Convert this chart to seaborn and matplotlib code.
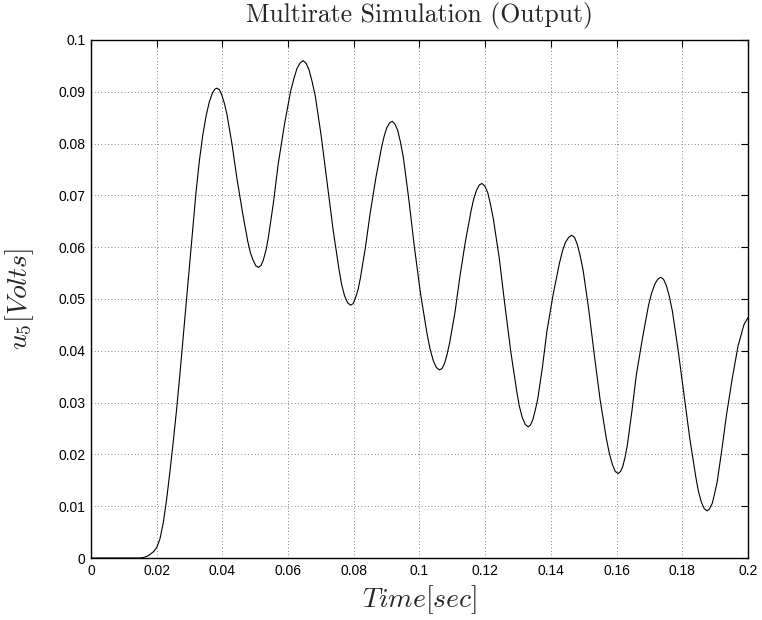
import numpy as np
import pandas as pd
import seaborn as sns
import matplotlib.pyplot as plt
from matplotlib.ticker import FuncFormatter

# values (denser around the peaks and troughs)
time_s = [0.0000, 0.0120, 0.0150, 0.0160, 0.0170, 0.0180, 0.0190, 0.0200, 0.0210, 0.0220,
          0.0230, 0.0240, 0.0250, 0.0260, 0.0270, 0.0280, 0.0290, 0.0300, 0.0310, 0.0320,
          0.0330, 0.0340, 0.0350, 0.0360, 0.0370, 0.0377, 0.0383,
          0.0391, 0.0398, 0.0406, 0.0414, 0.0429, 0.0444, 0.0461, 0.0477, 0.0485, 0.0494, 0.0502, 0.0510,
          0.0518, 0.0525, 0.0533, 0.0540, 0.0555, 0.0570, 0.0589, 0.0608, 0.0618, 0.0627, 0.0637, 0.0646,
          0.0655, 0.0664, 0.0673, 0.0683, 0.0701, 0.0719, 0.0737, 0.0755, 0.0763, 0.0772, 0.0781, 0.0790,
          0.0798, 0.0805, 0.0813, 0.0820, 0.0835, 0.0850, 0.0867, 0.0884, 0.0892, 0.0900, 0.0909, 0.0917,
          0.0925, 0.0934, 0.0942, 0.0951, 0.0967, 0.0984, 0.1003, 0.1023, 0.1032, 0.1042, 0.1051, 0.1061,
          0.1069, 0.1077, 0.1084, 0.1092, 0.1108, 0.1123, 0.1140, 0.1157, 0.1165, 0.1173, 0.1182, 0.1190,
          0.1199, 0.1208, 0.1216, 0.1225, 0.1243, 0.1260, 0.1278, 0.1296, 0.1304, 0.1313, 0.1322, 0.1331,
          0.1338, 0.1345, 0.1352, 0.1360, 0.1374, 0.1388, 0.1407, 0.1426, 0.1435, 0.1444, 0.1454, 0.1463,
          0.1472, 0.1480, 0.1489, 0.1498, 0.1515, 0.1532, 0.1550, 0.1569, 0.1578, 0.1587, 0.1596, 0.1605,
          0.1612, 0.1619, 0.1626, 0.1633, 0.1646, 0.1660, 0.1679, 0.1697, 0.1706, 0.1716, 0.1725, 0.1734,
          0.1743, 0.1752, 0.1761, 0.1770, 0.1787, 0.1805, 0.1823, 0.1841, 0.1849, 0.1858, 0.1867, 0.1876,
          0.1883, 0.1891, 0.1898, 0.1906, 0.1920, 0.1935, 0.1953, 0.1970, 0.1988, 0.2000]
u5_volts = [0.0000, 0.0000, 0.0000, 0.0001, 0.0003, 0.0007, 0.0012, 0.0020, 0.0037, 0.0068,
            0.0112, 0.0165, 0.0222, 0.0283, 0.0350, 0.0422, 0.0494, 0.0568, 0.0640, 0.0708,
            0.0767, 0.0815, 0.0852, 0.0880, 0.0898, 0.0905, 0.0907,
            0.0904, 0.0894, 0.0878, 0.0856, 0.0800, 0.0734, 0.0668, 0.0612, 0.0590, 0.0574, 0.0564, 0.0561,
            0.0565, 0.0576, 0.0595, 0.0619, 0.0684, 0.0761, 0.0837, 0.0902, 0.0926, 0.0945, 0.0956, 0.0960,
            0.0955, 0.0942, 0.0920, 0.0891, 0.0814, 0.0724, 0.0634, 0.0557, 0.0528, 0.0506, 0.0493, 0.0488,
            0.0491, 0.0502, 0.0518, 0.0540, 0.0598, 0.0666, 0.0733, 0.0791, 0.0813, 0.0830, 0.0840, 0.0843,
            0.0838, 0.0825, 0.0803, 0.0773, 0.0695, 0.0603, 0.0511, 0.0433, 0.0404, 0.0381, 0.0368, 0.0363,
            0.0366, 0.0377, 0.0393, 0.0416, 0.0474, 0.0543, 0.0612, 0.0670, 0.0693, 0.0709, 0.0720, 0.0723,
            0.0718, 0.0705, 0.0683, 0.0654, 0.0578, 0.0488, 0.0398, 0.0322, 0.0293, 0.0271, 0.0258, 0.0253,
            0.0257, 0.0267, 0.0284, 0.0307, 0.0367, 0.0438, 0.0509, 0.0569, 0.0592, 0.0609, 0.0619, 0.0623,
            0.0619, 0.0606, 0.0584, 0.0556, 0.0481, 0.0393, 0.0305, 0.0230, 0.0202, 0.0181, 0.0167, 0.0163,
            0.0167, 0.0177, 0.0195, 0.0219, 0.0280, 0.0353, 0.0425, 0.0487, 0.0510, 0.0528, 0.0538, 0.0542,
            0.0538, 0.0525, 0.0504, 0.0476, 0.0403, 0.0317, 0.0230, 0.0157, 0.0129, 0.0108, 0.0095, 0.0091,
            0.0095, 0.0105, 0.0123, 0.0146, 0.0207, 0.0278, 0.0350, 0.0410, 0.0451, 0.0464]

df = pd.DataFrame({'t': time_s, 'u': u5_volts})

sns.set_style('white')
plt.rcParams['font.family'] = ['Liberation Sans', 'DejaVu Sans']
plt.rcParams['mathtext.fontset'] = 'cm'

fig = plt.figure(figsize=(7.62, 6.2), dpi=100)
ax = fig.add_axes([0.1194, 0.1, 0.8622, 0.8355])

sns.lineplot(data=df, x='t', y='u', color='black', linewidth=0.8, ax=ax)

ax.set_xlim(0, 0.2)
ax.set_ylim(0, 0.1)
ax.set_xticks(np.arange(0, 0.2001, 0.02))
ax.set_yticks(np.arange(0, 0.1001, 0.01))
fmt = FuncFormatter(lambda v, p: '%g' % round(v, 4))
ax.xaxis.set_major_formatter(fmt)
ax.yaxis.set_major_formatter(fmt)
ax.tick_params(direction='in', length=5, width=0.8, top=True, right=True,
               labelsize=10, colors='black', pad=4)
ax.grid(True, linestyle=(0, (1, 3)), color='0.35', linewidth=0.6)
for s in ax.spines.values():
    s.set_visible(True)
    s.set_color('black')
    s.set_linewidth(1.0)

ax.set_title('Multirate Simulation (Output)', family='cmr10', fontsize=18.5, pad=13)
ax.set_xlabel(r'$Time[sec]$', fontsize=20, labelpad=4)
ax.set_ylabel(r'$u_5[Volts]$', fontsize=20, labelpad=16)

fig.savefig('out.png', dpi=100)
